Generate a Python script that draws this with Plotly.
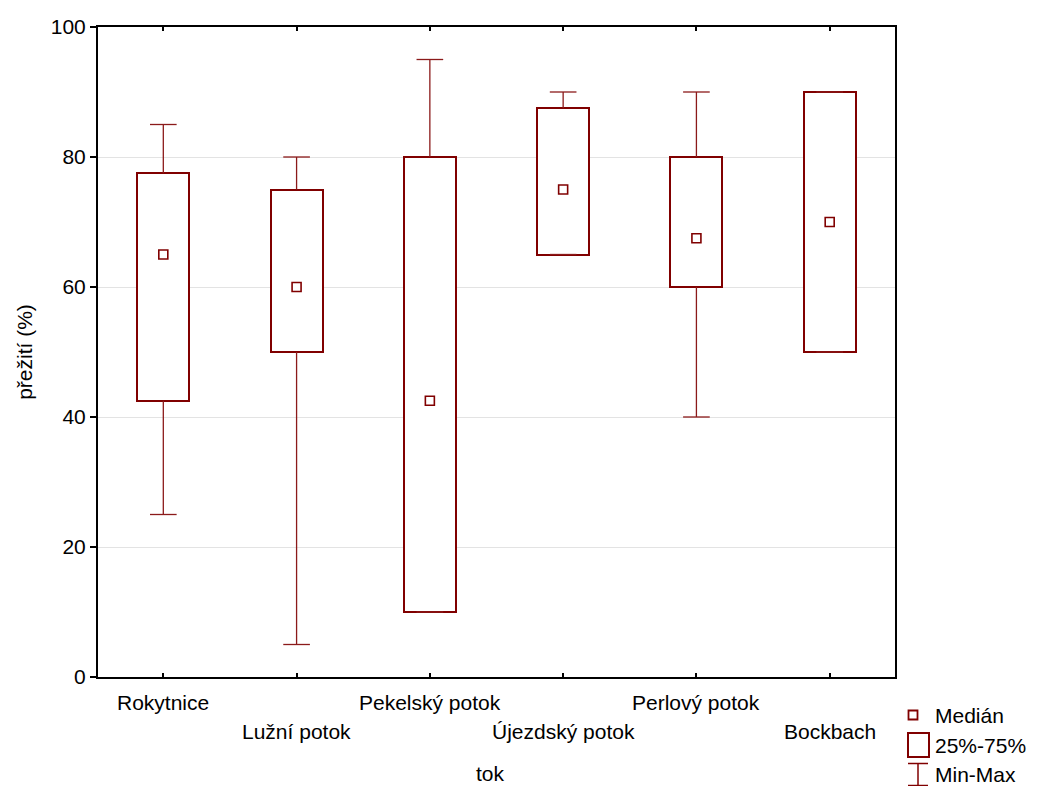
import plotly.graph_objects as go

categories = ["Rokytnice", "Lužní potok", "Pekelský potok", "Újezdský potok", "Perlový potok", "Bockbach"]
minimum = [25, 5, 10, 65, 40, 50]
q1 = [42.5, 50, 10, 65, 60, 50]
median = [65, 60, 42.5, 75, 67.5, 70]
q3 = [77.5, 75, 80, 87.5, 80, 90]
maximum = [85, 80, 95, 90, 90, 90]
y_ticks = [0, 20, 40, 60, 80, 100]

RED = "#800000"
FONT = "Liberation Sans, Arial, sans-serif"
FS = 21
xs = list(range(len(categories)))
BOXW = 0.39
CAPW = 0.2

fig = go.Figure()

# boxes (25%-75%)
fig.add_trace(go.Bar(
    x=xs, y=[b - a for a, b in zip(q1, q3)], base=q1, width=BOXW,
    marker=dict(color="white", line=dict(color=RED, width=2)),
    showlegend=False, hoverinfo="skip"))

# whiskers
wx, wy = [], []
for i in xs:
    wx += [i, i, None, i, i, None]
    wy += [q3[i], maximum[i], None, q1[i], minimum[i], None]
    wx += [i - CAPW / 2, i + CAPW / 2, None, i - CAPW / 2, i + CAPW / 2, None]
    wy += [maximum[i], maximum[i], None, minimum[i], minimum[i], None]
fig.add_trace(go.Scatter(x=wx, y=wy, mode="lines",
                         line=dict(color="#8b1a1a", width=1.3),
                         showlegend=False, hoverinfo="skip"))

# medians
fig.add_trace(go.Scatter(x=xs, y=median, mode="markers",
                         marker=dict(symbol="square-open", size=9, color=RED,
                                     line=dict(color=RED, width=1.6)),
                         showlegend=False))

# staggered category labels
for i, c in enumerate(categories):
    fig.add_annotation(x=i, y=0, xref="x", yref="paper", text=c, showarrow=False,
                       yanchor="top", yshift=-12 if i % 2 == 0 else -41,
                       font=dict(family=FONT, size=FS, color="black"))

fig.add_annotation(x=0.5, y=0, xref="paper", yref="paper", text="tok", showarrow=False,
                   yanchor="top", yshift=-83, xshift=-6,
                   font=dict(family=FONT, size=FS, color="black"))

# legend (drawn manually)
def px(xp):
    return (xp - 98) / 797.0

def py(yp):
    return (677 - yp) / 650.0

fig.add_shape(type="rect", xref="paper", yref="paper",
              x0=px(908.5), x1=px(917.5), y0=py(719.5), y1=py(710.5),
              line=dict(color=RED, width=1.8), fillcolor="white")
fig.add_shape(type="rect", xref="paper", yref="paper",
              x0=px(908), x1=px(929), y0=py(757), y1=py(733),
              line=dict(color=RED, width=2), fillcolor="white")
fig.add_shape(type="line", xref="paper", yref="paper",
              x0=px(918), x1=px(918), y0=py(763), y1=py(786),
              line=dict(color=RED, width=1.5))
fig.add_shape(type="line", xref="paper", yref="paper",
              x0=px(908), x1=px(928), y0=py(763.5), y1=py(763.5),
              line=dict(color=RED, width=1.5))
fig.add_shape(type="line", xref="paper", yref="paper",
              x0=px(908), x1=px(928), y0=py(785.5), y1=py(785.5),
              line=dict(color=RED, width=1.5))
for label, yy in [("Medián", 715), ("25%-75%", 745), ("Min-Max", 774)]:
    fig.add_annotation(x=px(933), y=py(yy), xref="paper", yref="paper", text=label,
                       showarrow=False, xanchor="left", yanchor="middle",
                       font=dict(family=FONT, size=FS, color="black"))

fig.update_layout(
    width=1038, height=786,
    margin=dict(l=98, r=143, t=27, b=109),
    paper_bgcolor="white", plot_bgcolor="white",
    font=dict(family=FONT, size=FS, color="black"),
    bargap=0,
    xaxis=dict(range=[-0.49, 5.49], tickvals=xs, showticklabels=False,
               ticks="inside", ticklen=4, tickcolor="black", tickwidth=1.5,
               showgrid=False, zeroline=False,
               showline=True, linecolor="black", linewidth=2, mirror="ticks"),
    yaxis=dict(range=[0, 100], tickvals=y_ticks, ticks="outside", ticklen=6,
               tickcolor="black", tickwidth=1.5,
               showgrid=True, gridcolor="#e3e3e3", gridwidth=1, zeroline=False,
               showline=True, linecolor="black", linewidth=2, mirror=True,
               tickfont=dict(family=FONT, size=FS),
               title=dict(text="přežití (%)", standoff=12,
                          font=dict(family=FONT, size=FS))),
)

fig.write_html("out.html")
